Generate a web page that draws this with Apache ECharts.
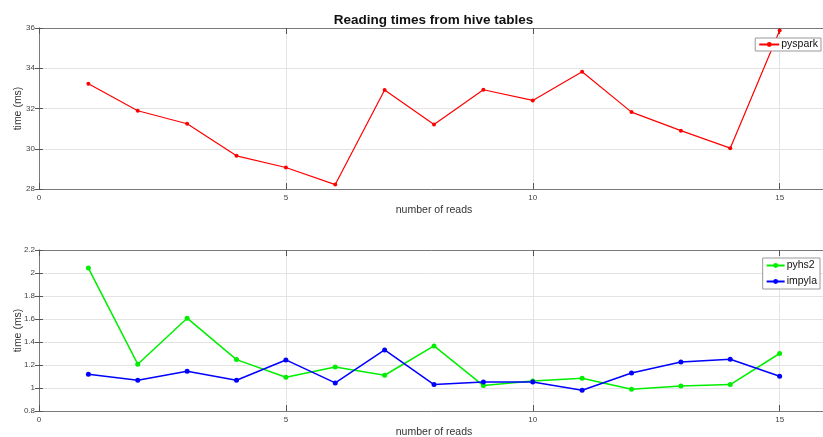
<!DOCTYPE html>
<html>
<head>
<meta charset="utf-8">
<script src="https://cdn.jsdelivr.net/npm/echarts@6/dist/echarts.min.js"></script>
<style>
  html, body { margin: 0; padding: 0; background: #fff; }
  #chart { width: 823px; height: 437px; }
</style>
</head>
<body>
<div id="chart"></div>
<script>
// Read counts 1..15
const reads = [1, 2, 3, 4, 5, 6, 7, 8, 9, 10, 11, 12, 13, 14, 15];
// Timings (ms) per read
const pyspark = [33.23, 31.89, 31.24, 29.65, 29.07, 28.22, 32.92, 31.2, 32.93, 32.4, 33.83, 31.82, 30.9, 30.03, 35.88];
const pyhs2 = [2.043, 1.207, 1.607, 1.247, 1.093, 1.183, 1.111, 1.366, 1.021, 1.061, 1.085, 0.989, 1.018, 1.03, 1.3];
const impyla = [1.119, 1.067, 1.146, 1.067, 1.244, 1.044, 1.331, 1.03, 1.053, 1.053, 0.98, 1.13, 1.227, 1.25, 1.102];

const FONT = '"Liberation Sans", Arial, sans-serif';
const pairs = (ys) => reads.map((x, i) => [x, ys[i]]);

const axisGray = '#7a7a7a';
const gridGray = '#e3e3e3';
const labelGray = '#444';

function xAxisFor(gridIndex, position, showLabels) {
  return {
    type: 'value', gridIndex, position, min: 0, max: 16, interval: 5,
    name: showLabels ? 'number of reads' : '',
    nameLocation: 'middle', nameGap: 16,
    nameTextStyle: { fontFamily: FONT, fontSize: 10.5, color: '#333' },
    axisLine: { show: true, lineStyle: { color: axisGray, width: 1 } },
    axisTick: { show: true, inside: true, length: 6, lineStyle: { color: '#555', width: 1 } },
    axisLabel: {
      show: showLabels, margin: 5, fontFamily: FONT, fontSize: 8, color: labelGray,
      formatter: v => (v % 5 === 0 ? String(v) : '')
    },
    splitLine: { show: showLabels, lineStyle: { color: gridGray, width: 1 } }
  };
}

function yAxisFor(gridIndex, position, min, max, interval, showLabels, fmt) {
  return {
    type: 'value', gridIndex, position, min, max, interval,
    name: showLabels ? 'time (ms)' : '',
    nameLocation: 'middle', nameGap: 15, nameRotate: 90, nameMoveOverlap: false,
    nameTextStyle: { fontFamily: FONT, fontSize: 10.5, color: '#333' },
    axisLine: { show: true, lineStyle: { color: axisGray, width: 1 } },
    axisTick: { show: true, inside: true, length: 4, lineStyle: { color: '#555', width: 1 } },
    axisLabel: { show: showLabels, margin: 4, fontFamily: FONT, fontSize: 8, color: labelGray, formatter: fmt },
    splitLine: { show: showLabels, lineStyle: { color: gridGray, width: 1 } }
  };
}

const fmtBottom = v => {
  const r = Math.round(v * 10) / 10;
  return Number.isInteger(r) ? String(r) : r.toFixed(1);
};

const chart = echarts.init(document.getElementById('chart'), null, { renderer: 'canvas' });
chart.setOption({
  backgroundColor: '#fff',
  animation: false,
  title: {
    text: 'Reading times from hive tables',
    left: 428.5, top: 8, textAlign: 'center',
    textStyle: { fontFamily: FONT, fontSize: 13.5, fontWeight: 'bold', color: '#111' }
  },
  legend: [
    {
      data: ['pyspark'], right: 2, top: 38, orient: 'vertical',
      backgroundColor: '#fff', borderColor: '#999', borderWidth: 1, padding: [1, 3, 1, 3],
      itemWidth: 20, itemHeight: 6, itemGap: 2,
      textStyle: { fontFamily: FONT, fontSize: 10.5, color: '#111', padding: [0, 0, 0, -3] }
    },
    {
      data: ['pyhs2', 'impyla'], right: 3, top: 258, orient: 'vertical',
      backgroundColor: '#fff', borderColor: '#999', borderWidth: 1, padding: [2, 3, 2, 3],
      itemWidth: 18, itemHeight: 6, itemGap: 5,
      textStyle: { fontFamily: FONT, fontSize: 10.5, color: '#111', padding: [0, 0, 0, -3] }
    }
  ],
  grid: [
    { left: 39, right: -6, top: 28, height: 161, outerBoundsMode: 'none', containLabel: false },
    { left: 39, right: -6, top: 250, height: 161, outerBoundsMode: 'none', containLabel: false }
  ],
  xAxis: [
    xAxisFor(0, 'bottom', true),
    xAxisFor(0, 'top', false),
    xAxisFor(1, 'bottom', true),
    xAxisFor(1, 'top', false)
  ],
  yAxis: [
    yAxisFor(0, 'left', 28, 36, 2, true, v => String(v)),
    yAxisFor(0, 'right', 28, 36, 2, false),
    yAxisFor(1, 'left', 0.8, 2.2, 0.2, true, fmtBottom),
    yAxisFor(1, 'right', 0.8, 2.2, 0.2, false)
  ],
  series: [
    {
      name: 'pyspark', type: 'line', xAxisIndex: 0, yAxisIndex: 0,
      data: pairs(pyspark), color: '#ff0000',
      symbol: 'circle', symbolSize: 4, showAllSymbol: true,
      lineStyle: { width: 1.2, color: '#ff0000' },
      itemStyle: { color: '#ff0000' }
    },
    {
      name: 'pyhs2', type: 'line', xAxisIndex: 2, yAxisIndex: 2,
      data: pairs(pyhs2), color: '#00ee00',
      symbol: 'circle', symbolSize: 5, showAllSymbol: true,
      lineStyle: { width: 1.5, color: '#00ee00' },
      itemStyle: { color: '#00ee00' }
    },
    {
      name: 'impyla', type: 'line', xAxisIndex: 2, yAxisIndex: 2,
      data: pairs(impyla), color: '#0000ff',
      symbol: 'circle', symbolSize: 5, showAllSymbol: true,
      lineStyle: { width: 1.5, color: '#0000ff' },
      itemStyle: { color: '#0000ff' }
    }
  ]
});
</script>
</body>
</html>
